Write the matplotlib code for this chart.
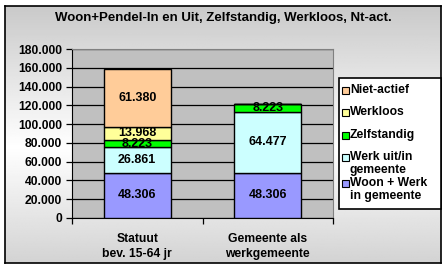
import numpy as np
import matplotlib.pyplot as plt
from matplotlib.patches import Rectangle

plt.rcParams['font.family'] = ['Liberation Sans', 'DejaVu Sans']
plt.rcParams['font.weight'] = 'bold'

title = 'Woon+Pendel-In en Uit, Zelfstandig, Werkloos, Nt-act.'
categories = ['Statuut\nbev. 15-64 jr', 'Gemeente als\nwerkgemeente']
series = ['Woon + Werk\nin gemeente', 'Werk uit/in\ngemeente', 'Zelfstandig', 'Werkloos', 'Niet-actief']
woon_werk = [48306, 48306]
werk_uit_in = [26861, 64477]
zelfstandig = [8223, 8223]
werkloos = [13968, 0]
niet_actief = [61380, 0]
colors = ['#9999FF', '#CCFFFF', '#00FF00', '#FFFF99', '#FFCC99']

W, H = 447, 269
fig = plt.figure(figsize=(W / 100, H / 100), dpi=100)
fig.patch.set_facecolor('white')

# gradient background with border
bg = fig.add_axes([5 / W, 6 / H, 436 / W, 257 / H])
y = np.linspace(0, 1, 256)
shade = 1 - 0.21 * np.abs(y - 0.55) / 0.55
grad = np.repeat(shade[:, None], 2, axis=1)
bg.imshow(grad, aspect='auto', cmap='gray', vmin=0, vmax=1, extent=[0, 1, 0, 1])
bg.set_xticks([])
bg.set_yticks([])
for s in bg.spines.values():
    s.set_linewidth(1.2)
    s.set_color('black')

ax = fig.add_axes([72 / W, (H - 218) / H, (333 - 72) / W, (218 - 49) / H])
ax.set_facecolor('#C0C0C0')

values = [woon_werk, werk_uit_in, zelfstandig, werkloos, niet_actief]
x = np.arange(len(categories))
bottom = np.zeros(len(categories))
for name, vals, col in zip(series, values, colors):
    vals = np.array(vals, dtype=float)
    ax.bar(x, vals, 0.51, bottom=bottom, color=col, edgecolor='black', linewidth=1, zorder=3)
    for xi, b, v in zip(x, bottom, vals):
        if v > 0:
            ax.text(xi, b + v / 2, '{:,}'.format(int(v)).replace(',', '.'),
                    ha='center', va='center', fontsize=9, fontweight='bold', zorder=4)
    bottom += vals

ax.set_xlim(-0.5, 1.5)
ax.set_ylim(0, 180000)
ax.set_yticks(np.arange(0, 180001, 20000))
ax.set_yticklabels(['{:,}'.format(v).replace(',', '.') for v in range(0, 180001, 20000)],
                   fontsize=8.7, fontweight='bold')
ax.grid(axis='y', color='black', linewidth=0.9, zorder=1)
ax.set_axisbelow(True)
ax.set_xticks([-0.5, 0.5, 1.5])
ax.set_xticklabels([])
ax.set_xticks(x, minor=True)
ax.set_xticklabels(categories, minor=True, fontsize=8.7, fontweight='bold', linespacing=1.35)
ax.tick_params(axis='x', which='minor', length=0, pad=11)
ax.tick_params(axis='x', which='major', length=4, direction='out', width=0.9)
ax.tick_params(axis='y', length=4, direction='out', width=0.9, pad=3)
for side in ['top', 'right']:
    ax.spines[side].set_color('#808080')
ax.spines['left'].set_color('black')
ax.spines['bottom'].set_color('black')

fig.text(0.5 * (5 + 441) / W, 1 - 18 / H, title, ha='center', va='center',
         fontsize=9.5, fontweight='bold')

# legend box
lx0, lx1, ly0, ly1 = 339, 441, 78, 209
fig.patches.append(Rectangle((lx0 / W, 1 - ly1 / H), (lx1 - lx0) / W, (ly1 - ly0) / H,
                             transform=fig.transFigure, facecolor='white',
                             edgecolor='black', linewidth=1.2, zorder=5))
label_y = [90, 112, 135, 157, 183]
for name, col, yy in zip(series[::-1], colors[::-1], label_y):
    fig.patches.append(Rectangle((342 / W, 1 - (yy + 3.5) / H), 7 / W, 7 / H,
                                 transform=fig.transFigure, facecolor=col,
                                 edgecolor='black', linewidth=0.8, zorder=6))
    for i, line in enumerate(name.split('\n')):
        fig.text(350 / W, 1 - (yy + 13 * i) / H, line, ha='left', va='center',
                 fontsize=8.7, fontweight='bold', zorder=7)

fig.savefig('out.png', dpi=100)
